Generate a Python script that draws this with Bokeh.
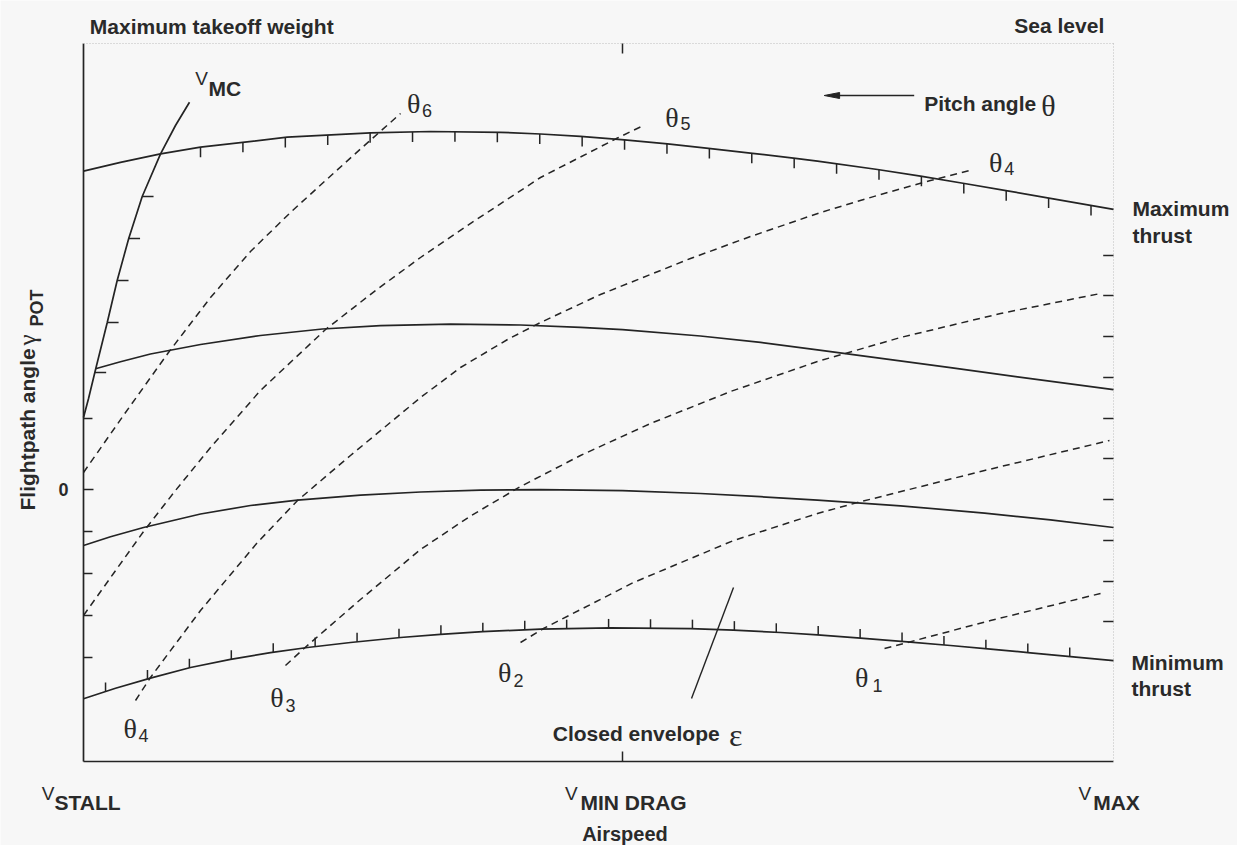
import numpy as np
from bokeh.plotting import figure
from bokeh.models import Range1d, Label
from bokeh.embed import file_html
from bokeh.resources import INLINE

# Airspeed: percent of the range from V_STALL (0) to V_MAX (100).
# Flightpath angle gamma_POT: schematic units, 0 = level flight.
V_STALL, V_MIN_DRAG, V_MAX = 0.0, 52.33, 100.0
GAMMA_LOW, GAMMA_HIGH = -27.2, 44.6

# Thrust limits of the flight envelope
max_thrust_v = [0, 3.59, 7.48, 11.36, 19.78, 27.86, 33.69, 40.49, 44.37, 48.25, 52.52,
                56.7, 60.68, 64.95, 68.93, 71.26, 77.09, 81.26, 85.53, 89.71, 93.59,
                97.77, 100]
max_thrust_g = [31.83, 32.72, 33.57, 34.23, 35.23, 35.67, 35.8, 35.72, 35.55, 35.32,
                34.97, 34.57, 34.12, 33.62, 33.13, 32.84, 32.0, 31.33, 30.6, 29.86,
                29.16, 28.41, 28.01]

mid_thrust_v = [1.17, 3.59, 6.5, 11.36, 17.18, 23.2, 28.83, 35.63, 42.43, 48.25, 52.33,
                59.9, 65.73, 71.26, 77.09, 84.17, 90.68, 100]
mid_thrust_g = [12.07, 12.78, 13.55, 14.5, 15.4, 16.05, 16.38, 16.54, 16.45, 16.22,
                15.98, 15.35, 14.71, 13.97, 13.16, 12.18, 11.27, 9.98]

level_thrust_v = [0, 2.62, 5.83, 11.36, 16.21, 20.78, 26.89, 32.72, 38.54, 44.37, 52.33,
                  59.9, 65.73, 71.26, 79.32, 87.48, 93.88, 100]
level_thrust_g = [-5.6, -4.73, -3.8, -2.45, -1.6, -1.06, -0.56, -0.25, -0.07, -0.01,
                  -0.12, -0.4, -0.72, -1.06, -1.63, -2.36, -3.04, -3.8]

min_thrust_v = [0, 3.11, 6.5, 10.39, 14.27, 18.16, 21.75, 25.92, 30.78, 34.66, 38.74,
                44.37, 51.17, 58.93, 63.11, 67.67, 71.26, 75.44, 80.0, 84.17, 88.06,
                91.94, 95.83, 100]
min_thrust_g = [-20.93, -19.88, -18.86, -17.8, -16.98, -16.32, -15.8, -15.3, -14.8,
                -14.48, -14.22, -13.96, -13.84, -13.91, -14.06, -14.3, -14.54, -14.86,
                -15.24, -15.6, -15.96, -16.33, -16.71, -17.12]

# Minimum control speed boundary
vmc_v = [0, 0.49, 1.17, 2.3, 3.27, 4.39, 5.7, 7.48, 8.93, 10.29]
vmc_g = [7.2, 9.1, 12.0, 16.67, 20.9, 25.1, 29.3, 33.57, 36.4, 38.73]

# Lines of constant pitch angle
theta6_v = [0, 4.08, 8.25, 12.33, 16.21, 20.09, 23.5, 26.89, 30.78]
theta6_g = [1.7, 7.7, 13.7, 19.2, 23.8, 27.7, 30.9, 34.05, 37.6]
theta5_v = [0, 2.91, 5.83, 8.93, 12.33, 17.18, 23.5, 28.35, 32.72, 37.28, 44.37,
            51.84, 54.37]
theta5_g = [-12.6, -8.4, -4.2, -0.1, 4.2, 9.9, 16.0, 19.9, 23.2, 26.4, 31.2, 35.15, 36.4]
theta4_v = [5.05, 6.5, 11.36, 16.89, 20.78, 25.92, 32.72, 36.6, 41.17, 44.37, 50.19,
            58.93, 64.76, 71.55, 77.38, 82.23, 86.02]
theta4_g = [-21.1, -18.8, -12.1, -5.3, -1.1, 3.4, 9.2, 12.2, 15.0, 16.7, 19.5, 23.1,
            25.3, 27.7, 29.5, 30.9, 31.9]
theta3_v = [19.61, 21.46, 26.89, 32.72, 37.57, 42.43, 48.25, 55.05, 62.82, 71.26,
            79.32, 89.03, 98.74]
theta3_g = [-17.6, -15.85, -11.0, -6.0, -2.65, 0.3, 3.4, 6.6, 9.8, 12.8, 15.2, 17.6, 19.6]
theta2_v = [42.43, 44.66, 53.4, 63.11, 71.26, 75.15, 87.48, 99.61]
theta2_g = [-15.3, -13.9, -9.3, -5.1, -2.4, -1.3, 1.9, 4.9]
theta1_v = [77.77, 80.0, 88.06, 98.74]
theta1_g = [-15.9, -15.3, -13.1, -10.4]

# Hatching that marks the inside of the closed envelope
right_hatch_g = [23.4, 19.4, 15.3, 11.2, 7.1, 3.1, -1.0, -5.1, -9.2, -13.2]
left_hatch_g = [7.1, -4.2, -8.4, -12.6, -16.8]
vmc_hatch_g = [29.3, 25.1, 20.9, 16.7, 11.7]
max_hatch_step, max_hatch_first = 4.117, 11.36
min_hatch_step, min_hatch_first = 4.07, 2.14

# Annotation anchors
pitch_arrow_v = [80.65, 71.91]
pitch_arrow_g = 39.4
envelope_pointer_v = [63.11, 59.03]
envelope_pointer_g = [-9.8, -20.9]

INK = "#242424"
TEXT = "#2a2a2a"
FAINT = "#bcbcbc"
BG = "#f7f7f7"
SANS = "Liberation Sans"
SERIF = "Liberation Serif"

# The frame fills the whole canvas; the axes are drawn inside it.
p = figure(width=1237, height=845, x_range=Range1d(-8.0583, 112.0388),
           y_range=Range1d(-35.6, 48.9), x_axis_type=None, y_axis_type=None,
           output_backend="svg", toolbar_location=None,
           min_border_left=0, min_border_right=0, min_border_top=0,
           min_border_bottom=0, background_fill_color=BG, border_fill_color=BG,
           outline_line_color=None)
p.grid.visible = False

# Axes: solid on the left and bottom, faint dotted on the top and right
p.line([V_STALL, V_STALL], [GAMMA_LOW, GAMMA_HIGH], line_color=INK, line_width=1.7)
p.line([V_STALL, V_MAX], [GAMMA_LOW, GAMMA_LOW], line_color=INK, line_width=1.7)
p.line([V_STALL, V_MAX], [GAMMA_HIGH, GAMMA_HIGH], line_color=FAINT, line_width=1,
       line_dash="1 2")
p.line([V_MAX, V_MAX], [GAMMA_LOW, GAMMA_HIGH], line_color=FAINT, line_width=1,
       line_dash="1 2")

# Axis ticks (all pointing into the chart)
p.segment([V_STALL], [0], [V_STALL + 0.97], [0], line_color=INK, line_width=1.5)
lh = np.array(left_hatch_g)
p.segment(np.full_like(lh, V_STALL), lh, np.full_like(lh, V_STALL + 0.87), lh,
          line_color=INK, line_width=1.5)
p.segment([V_MIN_DRAG, V_MIN_DRAG], [GAMMA_LOW, GAMMA_HIGH],
          [V_MIN_DRAG, V_MIN_DRAG], [GAMMA_LOW + 1.0, GAMMA_HIGH - 1.0],
          line_color=INK, line_width=1.5)
rh = np.array(right_hatch_g)
p.segment(np.full_like(rh, V_MAX), rh, np.full_like(rh, V_MAX - 1.0), rh,
          line_color=INK, line_width=1.5)

# Thrust curves and V_MC boundary
for vx, gy in [(max_thrust_v, max_thrust_g), (mid_thrust_v, mid_thrust_g),
               (level_thrust_v, level_thrust_g), (min_thrust_v, min_thrust_g),
               (vmc_v, vmc_g)]:
    p.line(vx, gy, line_color=INK, line_width=1.7)

# Constant pitch angle lines
for vx, gy in [(theta6_v, theta6_g), (theta5_v, theta5_g), (theta4_v, theta4_g),
               (theta3_v, theta3_g), (theta2_v, theta2_g), (theta1_v, theta1_g)]:
    p.line(vx, gy, line_color=INK, line_width=1.5, line_dash="7 5")

# Envelope hatching on the thrust limits and the V_MC boundary
mx = np.arange(max_hatch_first, 98.5, max_hatch_step)
my = np.interp(mx, max_thrust_v, max_thrust_g)
p.segment(mx, my, mx, my - 1.0, line_color=INK, line_width=1.5)

nx = np.arange(min_hatch_first, 96.5, min_hatch_step)
ny = np.interp(nx, min_thrust_v, min_thrust_g)
p.segment(nx, ny, nx, ny + 0.9, line_color=INK, line_width=1.5)

hy = np.array(vmc_hatch_g)
hx = np.interp(hy, vmc_g, vmc_v)
p.segment(hx, hy, hx + 1.1, hy, line_color=INK, line_width=1.5)

# Pointer to the closed envelope
p.line(envelope_pointer_v, envelope_pointer_g, line_color=INK, line_width=1.4)

# Pitch angle arrow
tip = pitch_arrow_v[1]
p.line([pitch_arrow_v[0], tip + 1.0], [pitch_arrow_g, pitch_arrow_g],
       line_color=INK, line_width=1.5)
p.patch([tip, tip + 1.5, tip + 1.5],
        [pitch_arrow_g, pitch_arrow_g + 0.3, pitch_arrow_g - 0.3],
        fill_color=INK, line_color=INK, line_width=1)


def label(x, y, text, size, font=SANS, style="bold", align="left",
          baseline="alphabetic", angle=0.0):
    p.add_layout(Label(x=x, y=y, text=text, text_font=font,
                       text_font_size=f"{size}px", text_font_style=style,
                       text_align=align, text_baseline=baseline, angle=angle,
                       text_color=TEXT))


def speed_label(xc, name, sub_x):
    label(xc, -30.4, "V", 19, style="normal", align="center")
    label(sub_x, -31.3, name, 21)


# Headings
label(0.61, 46.33, "Maximum takeoff weight", 21)
label(99.1, 46.4, "Sea level", 21, align="right")

# Axis labels
label(-1.46, 0, "0", 18, align="right", baseline="middle")
speed_label(-3.43, "STALL", -2.82)
speed_label(47.36, "MIN DRAG", 48.25)
speed_label(97.21, "MAX", 98.03)
label(52.57, -34.4, "Airspeed", 20, align="center")

label(-5.44, -2.1, "Flightpath angle", 21, angle=np.pi / 2)
label(-5.44, 14.95, "γ", 25, font=SERIF, style="normal", align="center", angle=np.pi / 2)
label(-4.47, 18.15, "POT", 18, align="center", angle=np.pi / 2)

# Curve labels
label(11.46, 41.1, "V", 19, style="normal", align="center")
label(12.14, 40.1, "MC", 21)
label(101.84, 28.13, "Maximum", 21)
label(101.84, 25.4, "thrust", 21)
label(101.75, -17.27, "Minimum", 21)
label(101.75, -19.87, "thrust", 21)
label(81.62, 38.57, "Pitch angle", 21)
label(93.69, 38.4, "θ", 30, font=SERIF, style="normal", align="center")
label(45.56, -24.43, "Closed envelope", 21)
label(63.33, -24.5, "ε", 32, font=SERIF, style="normal", align="center")

# Pitch angle line labels: (theta x, theta baseline, index x, index baseline, index)
theta_labels = [
    (32.07, 38.6, 32.87, 37.9, "6"),
    (57.14, 37.2, 57.96, 36.6, "5"),
    (88.57, 32.7, 89.39, 32.1, "4"),
    (4.53, -23.9, 5.34, -24.6, "4"),
    (18.79, -20.8, 19.61, -21.6, "3"),
    (40.9, -18.3, 41.75, -19.1, "2"),
    (75.56, -18.8, 76.6, -19.6, "1"),
]
for tx, ty, ix, iy, idx in theta_labels:
    label(tx, ty, "θ", 28, font=SERIF, style="normal", align="center")
    label(ix, iy, idx, 18, style="normal")

open("out.html", "w").write(file_html(p, INLINE))
